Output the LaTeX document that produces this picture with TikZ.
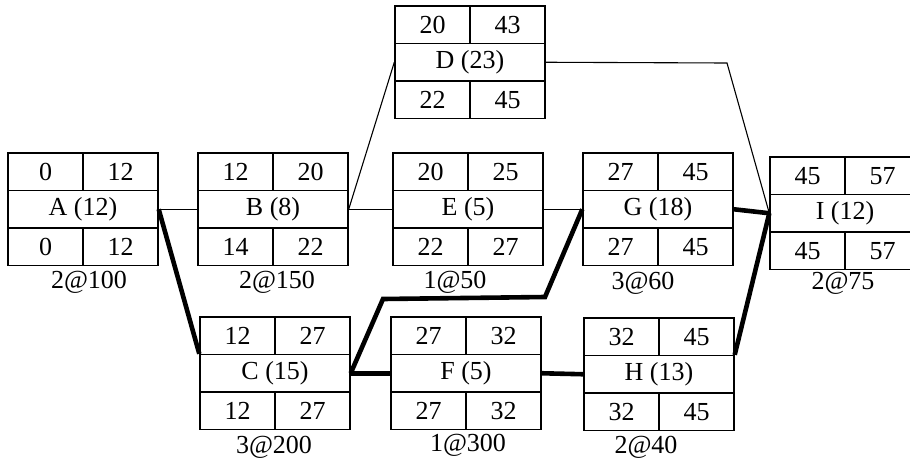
\documentclass[tikz,border=0pt]{standalone}
\usepackage{fontspec}
\setmainfont{Liberation Serif}
\tikzset{
  cell/.style={draw,line width=1.4pt,minimum width=75pt,minimum height=37.5pt,inner sep=0pt,font=\fontsize{26}{30}\selectfont},
  res/.style={inner sep=0pt,font=\fontsize{26}{30}\selectfont},
  thin/.style={line width=1.1pt},
  crit/.style={line width=4.6pt,line join=miter}
}
% #1 名前, (#2,#3) 左上, #4 #5 上段, #6 中段, #7 #8 下段
\newcommand{\actbox}[8]{%
  \node[cell,minimum width=150pt] (#1) at (#2+75,#3+56.25) {#6};
  \node[cell] (#1es) at (#2+37.5,#3+18.75) {#4};
  \node[cell] (#1ef) at (#2+112.5,#3+18.75) {#5};
  \node[cell] (#1ls) at (#2+37.5,#3+93.75) {#7};
  \node[cell] (#1lf) at (#2+112.5,#3+93.75) {#8};
}
\begin{document}
\begin{tikzpicture}[x=1pt,y=-1pt]
  \useasboundingbox (0,0) rectangle (910,461);
  \actbox{A}{8}{153}{0}{12}{A (12)}{0}{12}
  \actbox{B}{198}{153}{12}{20}{B (8)}{14}{22}
  \actbox{D}{395}{6}{20}{43}{D (23)}{22}{45}
  \actbox{E}{393}{153}{20}{25}{E (5)}{22}{27}
  \actbox{G}{583}{153}{27}{45}{G (18)}{27}{45}
  \actbox{I}{770}{157}{45}{57}{I (12)}{45}{57}
  \actbox{C}{200}{317}{12}{27}{C (15)}{12}{27}
  \actbox{F}{391}{317}{27}{32}{F (5)}{27}{32}
  \actbox{H}{584}{318}{32}{45}{H (13)}{32}{45} %箱

  \node[res] (Ares) at (89,282) {2@100};
  \node[res] (Bres) at (277,282) {2@150};
  \node[res] (Eres) at (455,282) {1@50};
  \node[res] (Gres) at (643,283) {3@60};
  \node[res] (Ires) at (843,283) {2@75};
  \node[res] (Cres) at (274,447) {3@200};
  \node[res] (Fres) at (468,445) {1@300};
  \node[res] (Hres) at (646,447) {2@40}; %資源

  \coordinate (di) at (727,63);
  \coordinate (cg1) at (383,299);
  \coordinate (cg2) at (545,297);

  \draw[thin] (A.east) -- (B.west);
  \draw[thin] (B.east) -- (D.west);
  \draw[thin] (B.east) -- (E.west);
  \draw[thin] (E.east) -- (G.west);
  \draw[thin] (D.east) -- (di) -- (I.west); %細い線
  \draw[crit] (A.east) -- (C.north west);
  \draw[crit] (C.east) -- (cg1) -- (cg2) -- (G.west);
  \draw[crit] (C.east) -- (F.west);
  \draw[crit] (F.east) -- (H.west);
  \draw[crit] (G.east) -- (I.west);
  \draw[crit] (H.north east) -- (I.west); %クリティカルパス
\end{tikzpicture}
\end{document}
